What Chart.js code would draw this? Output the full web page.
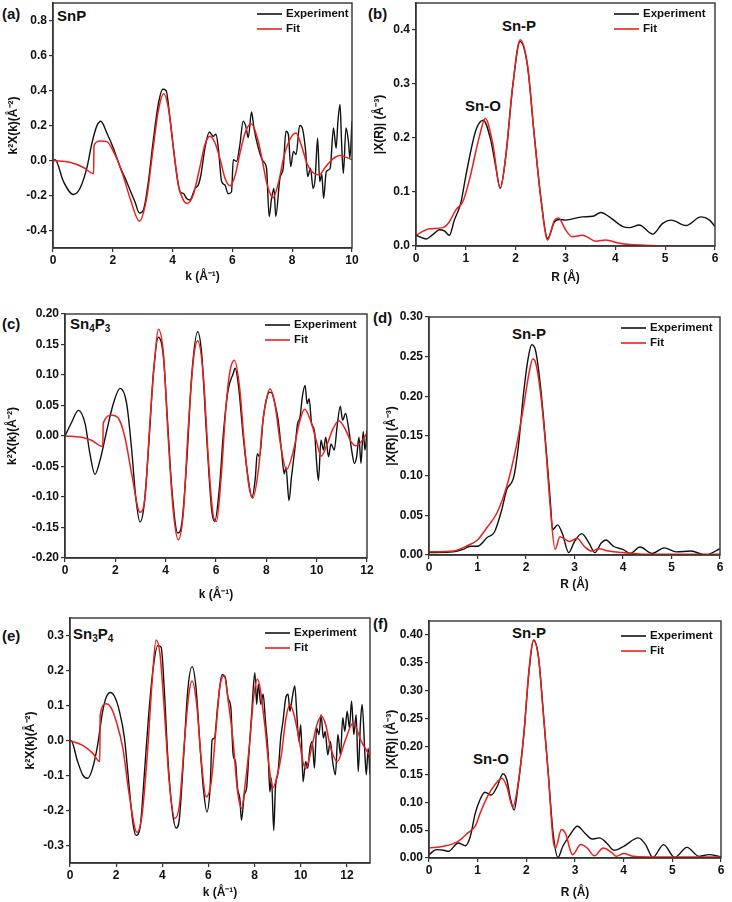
<!DOCTYPE html>
<html>
<head>
<meta charset="utf-8">
<script src="https://cdn.jsdelivr.net/npm/chart.js@4.4.1/dist/chart.umd.min.js"></script>
<style>
  body { margin: 0; background: #fff; }
  #fig { position: relative; width: 732px; height: 902px; overflow: hidden; font-family: "Liberation Sans", Arial, sans-serif; font-weight: bold; color: #111; }
  #fig canvas { position: absolute; }
  .lbl { position: absolute; white-space: nowrap; line-height: 1; }
  .pl { font-size: 15px; transform: translateY(-50%); }
  .nm { font-size: 15px; transform: translateY(-50%); }
  .pk { font-size: 15px; transform: translate(-50%, -50%); }
  .nm sub { font-size: 10px; vertical-align: -3px; }
</style>
</head>
<body>
<div id="fig">
  <div class="lbl pl" style="left:2px;top:13px">(a)</div>
  <div class="lbl nm" style="left:57px;top:15px">SnP</div>
  <div class="lbl pl" style="left:368px;top:13px">(b)</div>
  <div class="lbl pk" style="left:519px;top:25px">Sn-P</div>
  <div class="lbl pk" style="left:483px;top:105px">Sn-O</div>
  <div class="lbl pl" style="left:2px;top:323px">(c)</div>
  <div class="lbl nm" style="left:70px;top:325px">Sn<sub>4</sub>P<sub>3</sub></div>
  <div class="lbl pl" style="left:373px;top:317px">(d)</div>
  <div class="lbl pk" style="left:529px;top:333px">Sn-P</div>
  <div class="lbl pl" style="left:2px;top:635px">(e)</div>
  <div class="lbl nm" style="left:73px;top:635px">Sn<sub>3</sub>P<sub>4</sub></div>
  <div class="lbl pl" style="left:373px;top:623px">(f)</div>
  <div class="lbl pk" style="left:529px;top:632px">Sn-P</div>
  <div class="lbl pk" style="left:491px;top:758px">Sn-O</div>
</div>
<script>
// (a) SnP, k-space  [k, k2X(k)]
const aExp = [[0,0],[0.07,0.004],[0.35,-0.12],[0.68,-0.194],[0.9,-0.16],[1.13,-0.044],[1.29,0.09],[1.46,0.195],[1.6,0.224],[1.8,0.157],[2.02,0.07],[2.24,-0.035],[2.46,-0.12],[2.58,-0.17],[2.74,-0.236],[2.89,-0.3],[3.02,-0.284],[3.19,-0.12],[3.35,0.11],[3.52,0.32],[3.67,0.407],[3.78,0.4],[3.91,0.244],[4.08,-0.006],[4.25,-0.178],[4.36,-0.188],[4.47,-0.217],[4.58,-0.226],[4.75,-0.16],[4.86,-0.14],[4.95,-0.08],[5.08,0.07],[5.23,0.163],[5.36,0.138],[5.45,0.15],[5.53,0.07],[5.64,-0.12],[5.75,-0.14],[5.86,-0.19],[5.97,-0.18],[6.03,0.005],[6.14,-0.005],[6.25,0.09],[6.36,0.225],[6.45,0.195],[6.53,0.13],[6.64,0.278],[6.72,0.186],[6.87,0.07],[7.03,-0.005],[7.14,-0.044],[7.23,-0.32],[7.31,-0.217],[7.39,-0.16],[7.45,-0.32],[7.59,-0.1],[7.7,-0.044],[7.79,0.167],[7.87,0.15],[7.95,-0.035],[8.04,0.052],[8.13,0.034],[8.25,0.2],[8.33,0.19],[8.44,0.07],[8.52,-0.092],[8.61,-0.044],[8.7,-0.16],[8.77,-0.1],[8.85,0.128],[8.92,-0.12],[8.99,-0.08],[9.05,-0.217],[9.14,-0.063],[9.27,-0.044],[9.38,0.186],[9.47,0.07],[9.53,0.225],[9.6,0.32],[9.65,0.11],[9.71,-0.073],[9.8,0.186],[9.88,0.11],[9.93,0.013],[10,0.225]];
const aFit = [[0,0],[0.57,-0.01],[1.02,-0.04],[1.36,-0.075],[1.37,0.086],[1.58,0.112],[1.8,0.108],[2.02,0.052],[2.3,-0.063],[2.58,-0.217],[2.89,-0.347],[3.13,-0.217],[3.35,0.07],[3.52,0.282],[3.7,0.382],[3.86,0.3],[4.03,0.07],[4.19,-0.14],[4.36,-0.226],[4.49,-0.245],[4.69,-0.197],[4.91,-0.04],[5.08,0.09],[5.25,0.138],[5.42,0.1],[5.6,0],[5.75,-0.1],[5.92,-0.144],[6.1,-0.08],[6.25,0.04],[6.45,0.17],[6.64,0.209],[6.85,0.12],[7,0],[7.15,-0.13],[7.36,-0.213],[7.55,-0.12],[7.72,0.02],[7.92,0.12],[8.13,0.157],[8.3,0.09],[8.5,-0.02],[8.7,-0.07],[8.9,-0.082],[9.1,-0.04],[9.3,0],[9.45,0.02],[9.6,0.029],[9.8,0.018],[10,0.005]];
const aXTicks = [0, 2, 4, 6, 8, 10];
const aYTicks = [-0.4, -0.2, 0, 0.2, 0.4, 0.6, 0.8];

// (b) SnP, R-space  [R, |X(R)|]
const bExp = [[0,0.02],[0.2,0.013],[0.35,0.022],[0.47,0.03],[0.57,0.028],[0.67,0.02],[0.77,0.048],[0.9,0.08],[1,0.13],[1.2,0.214],[1.35,0.233],[1.5,0.196],[1.6,0.147],[1.69,0.107],[1.8,0.165],[1.94,0.295],[2.09,0.379],[2.24,0.331],[2.37,0.208],[2.51,0.085],[2.64,0.014],[2.78,0.045],[2.88,0.049],[3,0.048],[3.34,0.054],[3.55,0.055],[3.71,0.062],[3.88,0.054],[4.15,0.036],[4.28,0.034],[4.48,0.039],[4.75,0.022],[4.95,0.042],[5.12,0.048],[5.42,0.038],[5.72,0.054],[5.89,0.048],[6,0.036]];
const bFit = [[0,0.02],[0.27,0.032],[0.54,0.034],[0.67,0.045],[0.8,0.067],[0.94,0.082],[1.07,0.122],[1.27,0.202],[1.39,0.236],[1.54,0.19],[1.69,0.107],[1.8,0.165],[1.94,0.295],[2.09,0.382],[2.24,0.334],[2.37,0.208],[2.51,0.085],[2.64,0.011],[2.78,0.048],[2.86,0.052],[3,0.03],[3.14,0.017],[3.34,0.02],[3.61,0.009],[3.81,0.011],[4.08,0.005],[4.68,0.001],[6,0]];
const bXTicks = [0, 1, 2, 3, 4, 5, 6];
const bYTicks = [0, 0.1, 0.2, 0.3, 0.4];

// (c) Sn4P3, k-space
const cExp = [[0,0],[0.27,0.023],[0.53,0.042],[0.8,0.02],[0.99,-0.029],[1.19,-0.063],[1.39,-0.04],[1.66,0.009],[1.92,0.053],[2.19,0.078],[2.45,0.053],[2.65,-0.023],[2.81,-0.1],[2.98,-0.141],[3.15,-0.111],[3.34,-0.007],[3.51,0.102],[3.71,0.162],[3.91,0.13],[4.08,0.02],[4.24,-0.084],[4.48,-0.159],[4.64,-0.144],[4.84,-0.04],[5.03,0.097],[5.27,0.171],[5.43,0.135],[5.63,-0.002],[5.83,-0.122],[5.95,-0.14],[6.15,-0.078],[6.28,-0.002],[6.48,0.075],[6.68,0.102],[6.76,0.111],[6.9,0.08],[7.07,0.004],[7.27,-0.067],[7.43,-0.1],[7.56,-0.07],[7.64,-0.029],[7.73,-0.034],[7.87,0.026],[8,0.059],[8.13,0.072],[8.23,0.07],[8.34,0.053],[8.47,0.026],[8.6,-0.023],[8.71,-0.062],[8.78,-0.051],[8.9,-0.106],[9,-0.067],[9.13,-0.023],[9.24,0.02],[9.34,0.031],[9.43,0.064],[9.54,0.083],[9.62,0.053],[9.7,0.061],[9.8,0.02],[9.91,0.009],[10,-0.045],[10.07,-0.073],[10.17,-0.007],[10.27,-0.023],[10.36,-0.002],[10.47,-0.034],[10.57,-0.013],[10.7,-0.023],[10.81,0.015],[10.94,0.049],[11.03,0.026],[11.15,0.037],[11.26,0.015],[11.39,-0.023],[11.5,-0.045],[11.59,-0.034],[11.68,-0.002],[11.76,-0.045],[11.85,0.007],[11.92,-0.023],[12,0.009]];
const cFit = [[0,0],[0.66,-0.002],[1.05,-0.007],[1.5,-0.017],[1.52,0.021],[1.86,0.034],[2.12,0.029],[2.38,-0.002],[2.65,-0.062],[2.98,-0.125],[3.18,-0.1],[3.38,0.026],[3.55,0.119],[3.71,0.175],[3.91,0.135],[4.1,-0.002],[4.3,-0.122],[4.5,-0.17],[4.7,-0.127],[4.9,0.015],[5.1,0.124],[5.27,0.156],[5.5,0.097],[5.7,-0.04],[5.9,-0.133],[6.02,-0.14],[6.2,-0.07],[6.4,0.05],[6.55,0.105],[6.73,0.124],[6.95,0.075],[7.1,0],[7.3,-0.08],[7.46,-0.102],[7.7,-0.05],[7.85,0.02],[8,0.06],[8.15,0.077],[8.35,0.05],[8.55,-0.01],[8.8,-0.055],[9.1,-0.02],[9.3,0.02],[9.52,0.044],[9.8,0.02],[10,-0.01],[10.18,-0.033],[10.45,-0.01],[10.65,0.012],[10.88,0.025],[11.15,0.01],[11.35,-0.008],[11.55,-0.016],[11.8,-0.008],[12,0.005]];
const cXTicks = [0, 2, 4, 6, 8, 10, 12];
const cYTicks = [-0.2, -0.15, -0.1, -0.05, 0, 0.05, 0.1, 0.15, 0.2];

// (d) Sn4P3, R-space
const dExp = [[0,0.003],[0.5,0.004],[0.7,0.007],[0.85,0.011],[1,0.011],[1.2,0.022],[1.35,0.029],[1.5,0.057],[1.6,0.082],[1.75,0.099],[1.85,0.141],[1.95,0.204],[2.05,0.25],[2.12,0.265],[2.2,0.257],[2.3,0.212],[2.4,0.145],[2.5,0.069],[2.55,0.032],[2.65,0.038],[2.75,0.027],[2.88,0.003],[3,0.017],[3.15,0.027],[3.3,0.015],[3.42,0.003],[3.55,0.015],[3.65,0.019],[3.8,0.011],[4,0.007],[4.15,0.002],[4.35,0.01],[4.6,0.002],[4.85,0.009],[5.1,0.004],[5.4,0.005],[5.7,0],[6,0.008]];
const dFit = [[0,0.004],[0.5,0.005],[0.8,0.012],[1,0.019],[1.2,0.035],[1.4,0.053],[1.6,0.086],[1.8,0.137],[1.95,0.187],[2.05,0.225],[2.14,0.247],[2.2,0.242],[2.3,0.204],[2.4,0.141],[2.5,0.061],[2.6,0.007],[2.7,0.023],[2.8,0.02],[2.9,0.017],[3.05,0.021],[3.2,0.011],[3.35,0.005],[3.5,0.008],[3.7,0.005],[4,0.003],[4.5,0.001],[6,0.001]];
const dXTicks = [0, 1, 2, 3, 4, 5, 6];
const dYTicks = [0, 0.05, 0.1, 0.15, 0.2, 0.25, 0.3];

// (e) Sn3P4, k-space
const eExp = [[0,0],[0.04,0],[0.33,-0.06],[0.55,-0.098],[0.77,-0.108],[0.98,-0.079],[1.2,-0.012],[1.39,0.074],[1.56,0.122],[1.75,0.137],[1.92,0.127],[2.14,0.084],[2.36,0.007],[2.57,-0.137],[2.72,-0.233],[2.86,-0.271],[3.04,-0.247],[3.22,-0.098],[3.41,0.074],[3.61,0.209],[3.8,0.271],[3.95,0.266],[4.09,0.141],[4.24,-0.05],[4.42,-0.194],[4.6,-0.25],[4.74,-0.223],[4.92,-0.05],[5.1,0.141],[5.29,0.211],[5.46,0.151],[5.64,-0.022],[5.78,-0.137],[5.93,-0.204],[6.07,-0.137],[6.16,0.002],[6.26,0.007],[6.4,0.1],[6.59,0.188],[6.73,0.18],[6.85,0.122],[6.97,0.094],[7.07,-0.041],[7.17,-0.06],[7.26,-0.137],[7.36,-0.166],[7.43,-0.228],[7.55,-0.156],[7.65,-0.137],[7.75,-0.041],[7.87,0.074],[8.01,0.194],[8.09,0.103],[8.16,0.161],[8.27,0.103],[8.37,0.132],[8.47,0.055],[8.59,-0.041],[8.66,-0.147],[8.73,-0.108],[8.83,-0.257],[8.9,-0.137],[9.02,-0.089],[9.13,0.007],[9.23,0.055],[9.35,0.122],[9.45,0.132],[9.53,0.084],[9.63,0.122],[9.74,0.156],[9.83,0.074],[9.92,-0.003],[10,0.045],[10.1,-0.118],[10.21,-0.06],[10.3,-0.079],[10.4,-0.022],[10.5,-0.003],[10.59,-0.079],[10.69,0.036],[10.79,0.017],[10.88,0.074],[10.98,0.007],[11.06,0.026],[11.17,-0.041],[11.28,-0.003],[11.38,-0.06],[11.5,-0.098],[11.61,0.017],[11.72,-0.041],[11.82,0.065],[11.91,0.026],[12.01,0.084],[12.11,0.036],[12.2,0.113],[12.3,0.017],[12.4,0.074],[12.49,-0.089],[12.59,0.055],[12.66,0.103],[12.78,-0.041],[12.84,-0.098],[12.92,-0.022],[13,-0.098]];
const eFit = [[0,0],[0.55,-0.014],[0.98,-0.036],[1.29,-0.06],[1.31,0.074],[1.56,0.105],[1.78,0.094],[2,0.055],[2.29,-0.022],[2.57,-0.156],[2.9,-0.262],[3.12,-0.214],[3.37,-0.022],[3.56,0.17],[3.73,0.287],[3.9,0.247],[4.09,0.084],[4.3,-0.118],[4.54,-0.223],[4.74,-0.185],[4.96,-0.003],[5.15,0.132],[5.29,0.17],[5.49,0.103],[5.68,-0.05],[5.9,-0.161],[6.12,-0.118],[6.33,0.036],[6.5,0.156],[6.68,0.185],[6.88,0.1],[7.07,-0.003],[7.25,-0.14],[7.43,-0.193],[7.6,-0.12],[7.79,-0.003],[7.95,0.12],[8.12,0.175],[8.44,0.045],[8.6,-0.06],[8.8,-0.135],[8.98,-0.1],[9.16,-0.041],[9.35,0.06],[9.53,0.103],[9.7,0.075],[9.89,0.017],[10.2,-0.081],[10.53,-0.003],[10.7,0.045],[10.9,0.069],[11.1,0.04],[11.26,-0.012],[11.59,-0.06],[11.91,-0.003],[12.27,0.05],[12.63,-0.003],[13,-0.045]];
const eXTicks = [0, 2, 4, 6, 8, 10, 12];
const eYTicks = [-0.3, -0.2, -0.1, 0, 0.1, 0.2, 0.3];

// (f) Sn3P4, R-space
const fExp = [[0,0.006],[0.15,0.015],[0.3,0.014],[0.4,0.012],[0.6,0.027],[0.75,0.022],[0.85,0.039],[0.95,0.08],[1.05,0.105],[1.15,0.118],[1.28,0.113],[1.4,0.128],[1.52,0.151],[1.6,0.14],[1.68,0.104],[1.75,0.086],[1.82,0.122],[1.95,0.223],[2.05,0.33],[2.15,0.391],[2.25,0.36],[2.35,0.259],[2.45,0.152],[2.55,0.045],[2.65,0.001],[2.75,0.021],[2.9,0.042],[3.05,0.057],[3.2,0.045],[3.35,0.034],[3.5,0.036],[3.65,0.027],[3.8,0.014],[4,0.021],[4.3,0.036],[4.45,0.024],[4.6,0.001],[4.82,0.024],[5.05,0.001],[5.3,0.019],[5.55,0.003],[5.75,0.006],[6,0.002]];
const fFit = [[0,0.018],[0.3,0.021],[0.6,0.03],[0.8,0.045],[0.95,0.057],[1.05,0.08],[1.2,0.11],[1.35,0.131],[1.5,0.143],[1.6,0.128],[1.72,0.092],[1.8,0.116],[1.95,0.223],[2.05,0.333],[2.14,0.39],[2.25,0.36],[2.35,0.259],[2.45,0.152],[2.55,0.033],[2.6,0.018],[2.72,0.051],[2.8,0.045],[2.95,0.006],[3.12,0.024],[3.25,0.018],[3.4,0.004],[3.58,0.018],[3.75,0.01],[3.85,0.003],[4,0.008],[4.2,0.003],[4.5,0.002],[6,0.002]];
const fXTicks = [0, 1, 2, 3, 4, 5, 6];
const fYTicks = [0, 0.05, 0.1, 0.15, 0.2, 0.25, 0.3, 0.35, 0.4];

const kTitle = 'k (Å⁻¹)';
const kyTitle = 'k²X(k)(Å⁻²)';
const rTitle = 'R (Å)';
const ryTitle = '|X(R)| (Å⁻³)';

const FONT = '"Liberation Sans", Arial, sans-serif';
Chart.defaults.font.family = FONT;
Chart.defaults.font.weight = 'bold';
Chart.defaults.font.size = 12;
Chart.defaults.color = '#111';

// legend drawn inside the plot, top right
const insideLegend = {
  id: 'insideLegend',
  afterDatasetsDraw(chart, args, opts) {
    const { ctx, chartArea } = chart;
    ctx.save();
    ctx.font = 'bold 11.5px ' + FONT;
    ctx.textBaseline = 'middle';
    chart.data.datasets.forEach((ds, i) => {
      const y = chartArea.top + opts.dy + i * 15;
      const x0 = chartArea.right - opts.dx;
      ctx.strokeStyle = ds.borderColor;
      ctx.lineWidth = 1.6;
      ctx.beginPath();
      ctx.moveTo(x0, y);
      ctx.lineTo(x0 + 25, y);
      ctx.stroke();
      ctx.fillStyle = '#111';
      ctx.fillText(ds.label, x0 + 29, y);
    });
    ctx.restore();
  }
};

const frame = {
  id: 'frame',
  afterDraw(chart) {
    const { ctx, chartArea: a } = chart;
    ctx.save();
    ctx.strokeStyle = '#333';
    ctx.lineWidth = 1.4;
    ctx.strokeRect(a.left, a.top, a.right - a.left, a.bottom - a.top);
    ctx.restore();
  }
};

function makePanel(p) {
  const padTop = 10, padRight = 14;
  const cl = p.left, ct = p.plot.t - padTop;
  const cw = p.plot.r + padRight - cl;
  const ch = p.xTitleY + 7 - ct;
  const cv = document.createElement('canvas');
  cv.width = cw; cv.height = ch;
  cv.style.left = cl + 'px'; cv.style.top = ct + 'px';
  cv.style.width = cw + 'px'; cv.style.height = ch + 'px';
  document.getElementById('fig').appendChild(cv);

  const axisCommon = {
    type: 'linear',
    grid: { drawOnChartArea: false, drawTicks: true, tickLength: 4, color: '#333', lineWidth: 1.2 },
    border: { display: true, color: '#333', width: 1.4 },
  };

  new Chart(cv.getContext('2d'), {
    type: 'line',
    data: {
      datasets: [
        { label: 'Experiment', data: p.exp, borderColor: '#111', borderWidth: 1.4, pointRadius: 0, cubicInterpolationMode: 'monotone', order: 1 },
        { label: 'Fit', data: p.fit, borderColor: '#e8211d', borderWidth: 1.5, pointRadius: 0, cubicInterpolationMode: 'monotone', order: 0 }
      ]
    },
    options: {
      responsive: false,
      animation: false,
      layout: { padding: { left: 0, top: padTop, right: padRight, bottom: 0 } },
      plugins: {
        legend: { display: false },
        tooltip: { enabled: false },
        insideLegend: p.legend
      },
      scales: {
        x: {
          ...axisCommon,
          position: 'bottom',
          min: p.xMin, max: p.xMax,
          afterBuildTicks: ax => { ax.ticks = p.xTicks.map(v => ({ value: v })); },
          afterFit: ax => { ax.height = ct + ch - p.plot.b; },
          ticks: { padding: 1, maxRotation: 0, autoSkip: false, callback: v => String(v) },
          title: { display: true, text: p.xTitle, font: { size: 12, weight: 'bold' }, padding: { top: 0, bottom: 0 } }
        },
        y: {
          ...axisCommon,
          position: 'left',
          min: p.yMin, max: p.yMax,
          afterBuildTicks: ax => { ax.ticks = p.yTicks.map(v => ({ value: v })); },
          afterFit: ax => { ax.width = p.plot.l - cl; },
          ticks: { padding: 2, autoSkip: false, callback: v => Number(v).toFixed(p.yDec) },
          title: { display: true, text: p.yTitle, font: { size: 12, weight: 'bold' }, padding: { top: p.yTitleX - cl - 7, bottom: 0 } }
        }
      }
    },
    plugins: [insideLegend, frame]
  });
}

makePanel({ left: 0, plot: { l: 53, t: 3, r: 352, b: 248 }, xTitleY: 277, yTitleX: 13,
  exp: aExp, fit: aFit, xMin: 0, xMax: 10, yMin: -0.5, yMax: 0.9, xTicks: aXTicks, yTicks: aYTicks, yDec: 1,
  xTitle: kTitle, yTitle: kyTitle, legend: { dx: 95, dy: 11 } });
makePanel({ left: 366, plot: { l: 416, t: 3, r: 715, b: 246 }, xTitleY: 278, yTitleX: 379.5,
  exp: bExp, fit: bFit, xMin: 0, xMax: 6, yMin: 0, yMax: 0.45, xTicks: bXTicks, yTicks: bYTicks, yDec: 1,
  xTitle: rTitle, yTitle: ryTitle, legend: { dx: 101, dy: 11 } });
makePanel({ left: 0, plot: { l: 65, t: 314, r: 367, b: 558 }, xTitleY: 595, yTitleX: 12,
  exp: cExp, fit: cFit, xMin: 0, xMax: 12, yMin: -0.2, yMax: 0.2, xTicks: cXTicks, yTicks: cYTicks, yDec: 2,
  xTitle: kTitle, yTitle: kyTitle, legend: { dx: 102, dy: 11 } });
makePanel({ left: 366, plot: { l: 429, t: 317, r: 720, b: 555 }, xTitleY: 585, yTitleX: 391,
  exp: dExp, fit: dFit, xMin: 0, xMax: 6, yMin: 0, yMax: 0.3, xTicks: dXTicks, yTicks: dYTicks, yDec: 2,
  xTitle: rTitle, yTitle: ryTitle, legend: { dx: 99, dy: 11 } });
makePanel({ left: 0, plot: { l: 70, t: 618, r: 370, b: 863 }, xTitleY: 893, yTitleX: 30,
  exp: eExp, fit: eFit, xMin: 0, xMax: 13, yMin: -0.35, yMax: 0.35, xTicks: eXTicks, yTicks: eYTicks, yDec: 1,
  xTitle: kTitle, yTitle: kyTitle, legend: { dx: 105, dy: 15 } });
makePanel({ left: 366, plot: { l: 429, t: 621, r: 721, b: 858 }, xTitleY: 893, yTitleX: 391,
  exp: fExp, fit: fFit, xMin: 0, xMax: 6, yMin: 0, yMax: 0.425, xTicks: fXTicks, yTicks: fYTicks, yDec: 2,
  xTitle: rTitle, yTitle: ryTitle, legend: { dx: 100, dy: 15 } });
</script>
</body>
</html>
